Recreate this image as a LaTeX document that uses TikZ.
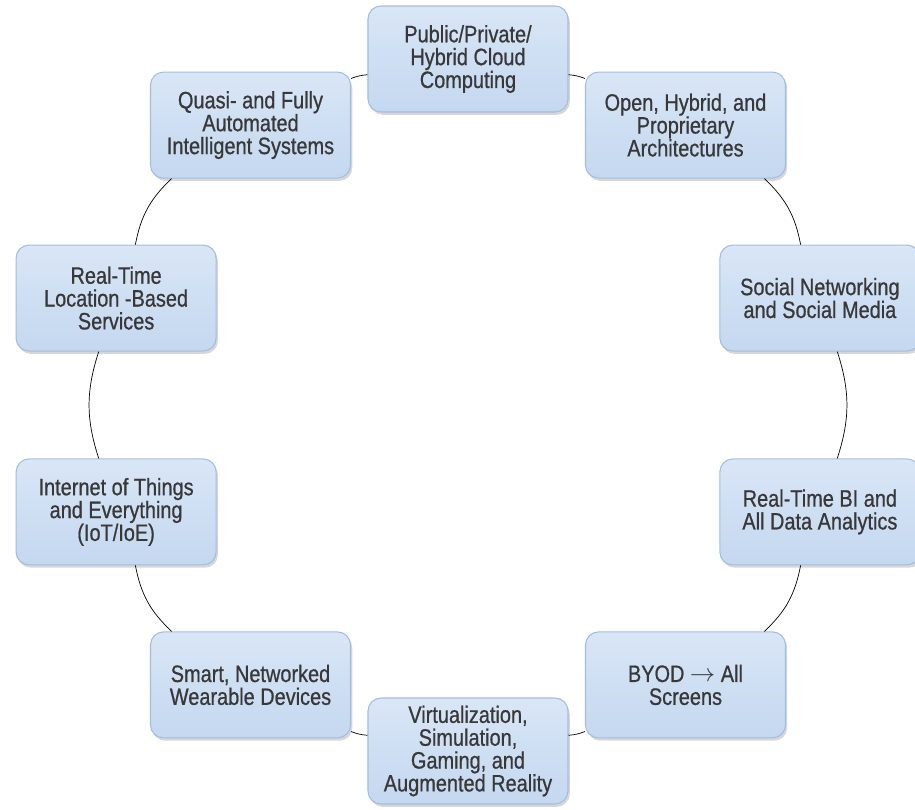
\documentclass[tikz,border=0pt]{standalone}
\usepackage{fontspec}
\setmainfont[FakeStretch=0.84, FakeBold=0.7]{Liberation Sans}
\usepackage{tikz}
\usetikzlibrary{shadows}

\definecolor{boxblue}{HTML}{C4D8F0}
\definecolor{boxtop}{HTML}{D9E6F6}
\definecolor{boxedge}{HTML}{A3BDDF}
\definecolor{labelgray}{HTML}{383838}

\tikzset{
  topic/.style={draw=boxedge, line width=0.6pt, rounded corners=0.26cm,
    top color=boxtop, bottom color=boxblue,
    drop shadow={shadow xshift=1pt, shadow yshift=-1.6pt, opacity=0.35, fill=black!45},
    minimum width=4cm, minimum height=2.12cm, inner sep=2pt,
    align=center, text=labelgray, font=\fontsize{13.5}{13}\selectfont},
  ring/.style={draw=black!75, line width=0.6pt, bend left=18},
  short ring/.style={ring, bend left=8}
}

\begin{document}
\begin{tikzpicture}
\useasboundingbox (-9.36, -8.08) rectangle (8.94, 8.1);

% ten topics round an ellipse, clockwise from the top
\node[topic] (cloud_computing) at (90:7.4 and 6.92) {Public/Private/\\Hybrid Cloud\\Computing};
\node[topic] (open_arch) at (54:7.4 and 6.92) {Open, Hybrid, and\\Proprietary\\Architectures};
\node[topic] (social_media) at (18:7.4 and 6.92) {Social Networking\\and Social Media};
\node[topic] (realtime_bi) at (-18:7.4 and 6.92) {Real-Time BI and\\All Data Analytics};
\node[topic] (byod) at (-54:7.4 and 6.92) {BYOD $\rightarrow$ All\\Screens};
\node[topic] (virtualization) at (-90:7.4 and 6.92) {Virtualization,\\Simulation,\\Gaming, and\\Augmented Reality};
\node[topic] (wearables) at (-126:7.4 and 6.92) {Smart, Networked\\Wearable Devices};
\node[topic] (iot) at (-162:7.4 and 6.92) {Internet of Things\\and Everything\\(IoT/IoE)};
\node[topic] (location_services) at (162:7.4 and 6.92) {Real-Time\\Location -Based\\Services};
\node[topic] (intelligent_systems) at (126:7.4 and 6.92) {Quasi- and Fully\\Automated\\Intelligent Systems};

% arcs joining neighbours
\draw (cloud_computing) to[short ring] (open_arch);
\draw (open_arch) to[ring] (social_media);
\draw (social_media) to[ring] (realtime_bi);
\draw (realtime_bi) to[ring] (byod);
\draw (byod) to[short ring] (virtualization);
\draw (virtualization) to[short ring] (wearables);
\draw (wearables) to[ring] (iot);
\draw (iot) to[ring] (location_services);
\draw (location_services) to[ring] (intelligent_systems);
\draw (intelligent_systems) to[short ring] (cloud_computing);
\end{tikzpicture}
\end{document}
